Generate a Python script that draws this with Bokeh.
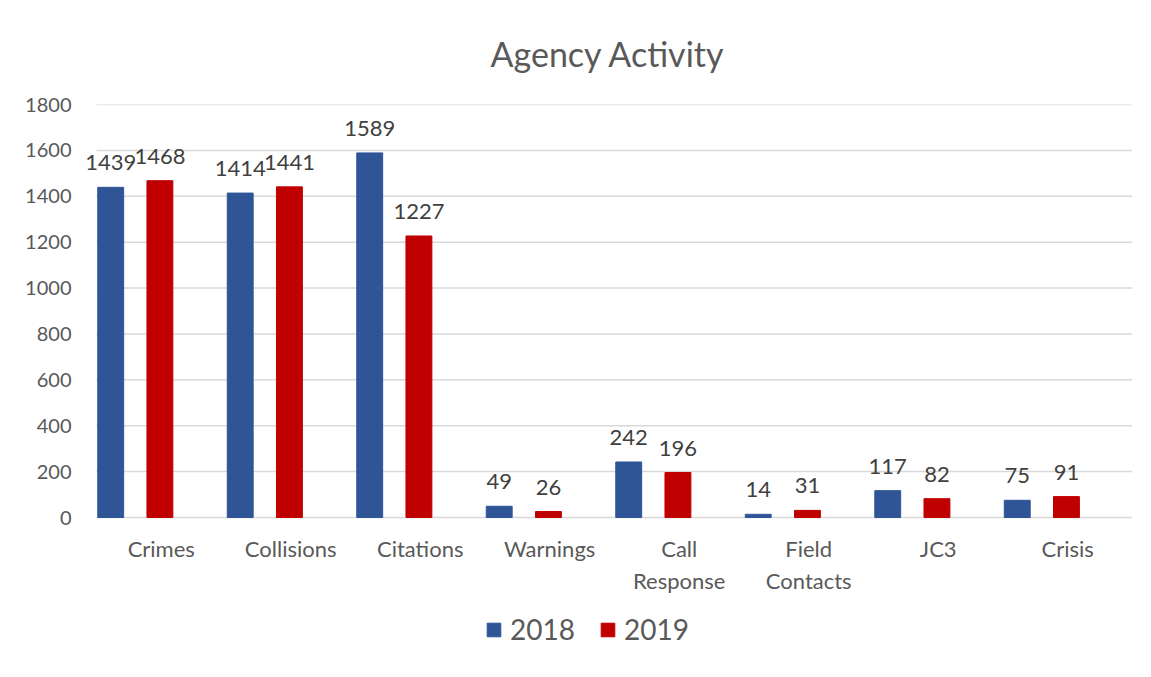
from bokeh.plotting import figure
from bokeh.models import ColumnDataSource, FixedTicker, Legend, LegendItem, Range1d
from bokeh.core.properties import value
from bokeh.embed import file_html
from bokeh.resources import INLINE

categories = ["Crimes", "Collisions", "Citations", "Warnings", "Call\nResponse", "Field\nContacts", "JC3", "Crisis"]
values_2018 = [1439, 1414, 1589, 49, 242, 14, 117, 75]
values_2019 = [1468, 1441, 1227, 26, 196, 31, 82, 91]
y_ticks = [0, 200, 400, 600, 800, 1000, 1200, 1400, 1600, 1800]

BLUE = "#2F5597"
RED = "#C00000"
TEXT = "#595959"
FONT = "Lato"

n = len(categories)
centers = [i + 0.5 for i in range(n)]
src18 = ColumnDataSource(dict(x=[c - 0.39 for c in centers], top=values_2018,
                              label=[str(v) for v in values_2018]))
src19 = ColumnDataSource(dict(x=[c - 0.01 for c in centers], top=values_2019,
                              label=[str(v) for v in values_2019]))

# plot area extends below zero so the category labels and legend sit inside the frame
AXIS_PX, FRAME_PX = 413, 568
y_top = y_ticks[-1]
y_start = -y_top * (FRAME_PX - AXIS_PX) / AXIS_PX

p = figure(frame_width=1049, frame_height=FRAME_PX, output_backend="svg", toolbar_location=None,
           x_range=Range1d(-0.1, n), y_range=Range1d(y_start, y_top),
           min_border_left=83, min_border_right=19, min_border_top=104, min_border_bottom=0,
           title="Agency Activity")

p.title.align = "center"
p.title.text_font = FONT
p.title.text_font_size = "34px"
p.title.text_font_style = "normal"
p.title.text_color = TEXT
p.title.standoff = 61

# horizontal gridlines spanning the category area only
p.segment(x0=[0] * len(y_ticks), x1=[n] * len(y_ticks), y0=y_ticks, y1=y_ticks,
          line_color="#D9D9D9", line_width=1.5)

r18 = p.vbar(x="x", top="top", width=0.2, source=src18, fill_color=BLUE, line_color=BLUE)
r19 = p.vbar(x="x", top="top", width=0.2, source=src19, fill_color=RED, line_color=RED)

for s in (src18, src19):
    p.text(x="x", y="top", text="label", source=s, text_align="center", text_baseline="bottom",
           y_offset=-17, text_font=value(FONT), text_font_size="22px", text_color="#404040")

p.xaxis.ticker = FixedTicker(ticks=centers)
p.xaxis.major_label_overrides = {c: lab for c, lab in zip(centers, categories)}
p.xaxis.fixed_location = 0
p.yaxis.ticker = FixedTicker(ticks=y_ticks)

for ax in (p.xaxis, p.yaxis):
    ax.axis_line_color = None
    ax.major_tick_line_color = None
    ax.minor_tick_line_color = None
    ax.major_label_text_font = FONT
    ax.major_label_text_color = TEXT
p.xaxis.major_label_text_font_size = "22px"
p.yaxis.major_label_text_font_size = "20px"
p.xaxis.major_label_standoff = 11
p.yaxis.major_label_standoff = 6

p.xgrid.grid_line_color = None
p.ygrid.grid_line_color = None
p.outline_line_color = None

legend = Legend(items=[LegendItem(label="2018", renderers=[r18]), LegendItem(label="2019", renderers=[r19])],
                orientation="horizontal", location=(402, 26), label_text_font=FONT,
                label_text_font_size="28px", label_text_color=TEXT, glyph_width=17, glyph_height=17,
                border_line_color=None, background_fill_alpha=0, spacing=24, margin=0, padding=0,
                label_standoff=8)
p.add_layout(legend, "center")

open("out.html", "w").write(file_html(p, INLINE))
